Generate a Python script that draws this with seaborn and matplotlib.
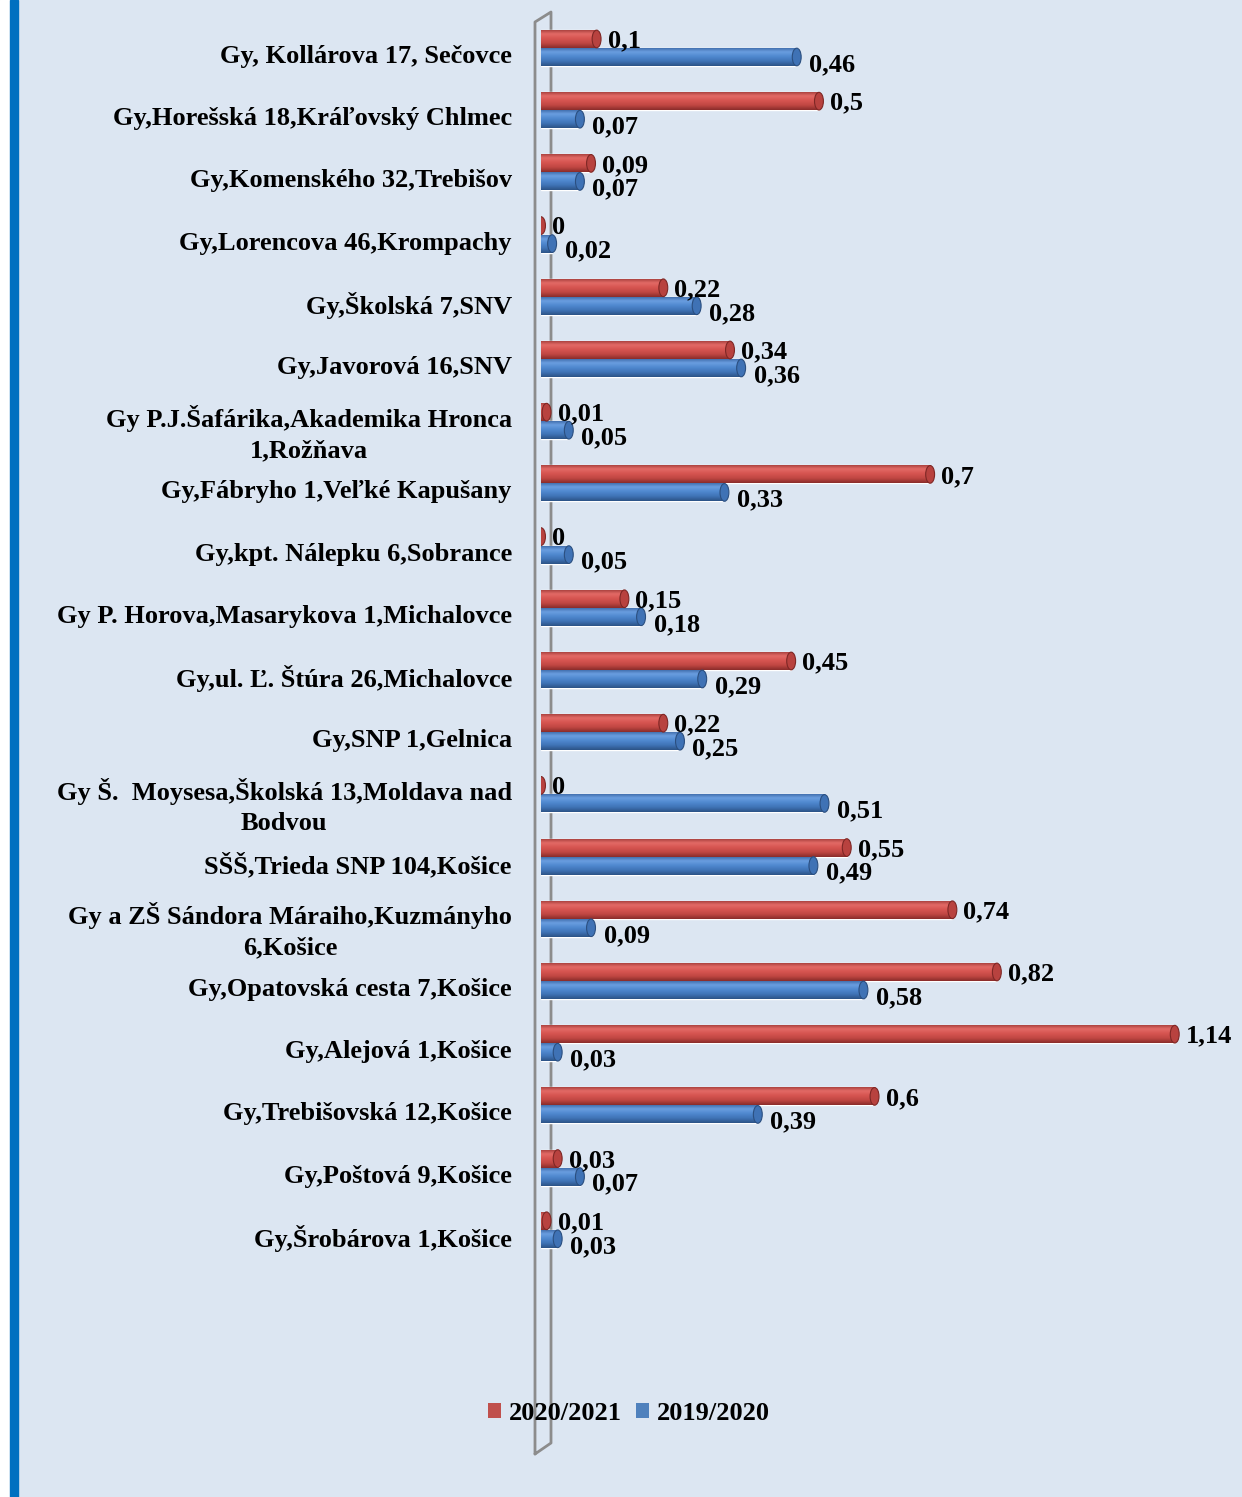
import numpy as np
import pandas as pd
import matplotlib
matplotlib.use("Agg")
import matplotlib.pyplot as plt
import seaborn as sns
from matplotlib.patches import Ellipse, Patch, Rectangle
from matplotlib.lines import Line2D
from matplotlib.colors import LinearSegmentedColormap
from matplotlib.transforms import ScaledTranslation

categories = [
    "Gy, Kollárova 17, Sečovce",
    "Gy,Horešská 18,Kráľovský Chlmec",
    "Gy,Komenského 32,Trebišov",
    "Gy,Lorencova 46,Krompachy",
    "Gy,Školská 7,SNV",
    "Gy,Javorová 16,SNV",
    "Gy P.J.Šafárika,Akademika Hronca\n1,Rožňava",
    "Gy,Fábryho 1,Veľké Kapušany",
    "Gy,kpt. Nálepku 6,Sobrance",
    "Gy P. Horova,Masarykova 1,Michalovce",
    "Gy,ul. Ľ. Štúra 26,Michalovce",
    "Gy,SNP 1,Gelnica",
    "Gy Š.  Moysesa,Školská 13,Moldava nad\nBodvou",
    "SŠŠ,Trieda SNP 104,Košice",
    "Gy a ZŠ Sándora Máraiho,Kuzmányho\n6,Košice",
    "Gy,Opatovská cesta 7,Košice",
    "Gy,Alejová 1,Košice",
    "Gy,Trebišovská 12,Košice",
    "Gy,Poštová 9,Košice",
    "Gy,Šrobárova 1,Košice",
]
series_names = ["2020/2021", "2019/2020"]
values_2020_2021 = [0.1, 0.5, 0.09, 0, 0.22, 0.34, 0.01, 0.7, 0, 0.15,
                    0.45, 0.22, 0, 0.55, 0.74, 0.82, 1.14, 0.6, 0.03, 0.01]
values_2019_2020 = [0.46, 0.07, 0.07, 0.02, 0.28, 0.36, 0.05, 0.33, 0.05, 0.18,
                    0.29, 0.25, 0.51, 0.49, 0.09, 0.58, 0.03, 0.39, 0.07, 0.03]

df = pd.DataFrame({
    "school": categories * 2,
    "series": [series_names[0]] * len(categories) + [series_names[1]] * len(categories),
    "value": values_2020_2021 + values_2019_2020,
})

W, H, DPI = 1242, 1497, 100
BG = "#DCE6F2"
RED = "#D0514D"
BLUE = "#4F86CC"
FONT = "Liberation Serif"
FS = 19

sns.set_theme(style="white")
plt.rcParams["font.family"] = [FONT, "DejaVu Serif"]
plt.rcParams["font.weight"] = "bold"
plt.rcParams["text.color"] = "black"
plt.rcParams["ytick.color"] = "black"

fig = plt.figure(figsize=(W / DPI, H / DPI), dpi=DPI)
fig.patch.set_facecolor(BG)
# left white margin and blue stripe
fig.add_artist(Rectangle((0, 0), 10 / W, 1, transform=fig.transFigure, color="white", zorder=0))
fig.add_artist(Rectangle((10 / W, 0), 8 / W, 1, transform=fig.transFigure, color="#0070C0", zorder=0))

top_px, bot_px = 15, 1450
ax = fig.add_axes([541 / W, 1 - bot_px / H, 1 - 541 / W, (bot_px - top_px) / H])
ax.set_facecolor("none")

sns.barplot(data=df, y="school", x="value", hue="series", orient="h",
            palette=[RED, BLUE], width=0.58, ax=ax, legend=False,
            saturation=1, errorbar=None)

# limits: category k centred at pixel 48 + 62.2*k
c0, step = 48.0, 62.2
ymin = (top_px - c0) / step
ymax = (bot_px - c0) / step
xmax = 1.261

# cylinder shading
red_cmap = LinearSegmentedColormap.from_list("r", ["#9E3A37", "#E36A66", "#D65450", "#C04743", "#8A2C2A"])
blue_cmap = LinearSegmentedColormap.from_list("b", ["#3A66A3", "#6A9EE0", "#4F88CF", "#3F73B6", "#2C5386"])
grad = np.linspace(0, 1, 64).reshape(-1, 1)
cap_w = 0.016
for p in list(ax.patches):
    x0, y0 = p.get_x(), p.get_y()
    w, h = p.get_width(), p.get_height()
    fc = p.get_facecolor()
    is_red = fc[0] > fc[2]
    cmap = red_cmap if is_red else blue_cmap
    if w > 0:
        im = ax.imshow(grad, cmap=cmap, aspect="auto", extent=[x0, x0 + w, y0 + h, y0],
                       zorder=2, interpolation="bilinear")
        im.set_clip_path(p)
    cap = Ellipse((x0 + w, y0 + h / 2), cap_w, h * 0.98,
                  facecolor=("#B8423F" if is_red else "#3F72B5"),
                  edgecolor=("#7E2725" if is_red else "#2B4F80"), lw=0.8, zorder=3)
    ax.add_patch(cap)

ax.set_xlim(0, xmax)
ax.set_ylim(ymax, ymin)

# value labels
fmt = lambda v: f"{v:g}".replace(".", ",")
for i, (r, b) in enumerate(zip(values_2020_2021, values_2019_2020)):
    yr = i - 0.58 / 4
    yb = i + 0.58 / 4
    ax.annotate(fmt(r), (r, yr), xytext=(8, -1.5), textcoords="offset points",
                ha="left", va="center", fontsize=FS, fontweight="bold",
                fontfamily=FONT, color="black", zorder=5)
    ax.annotate(fmt(b), (b, yb), xytext=(9, -5.5), textcoords="offset points",
                ha="left", va="center", fontsize=FS, fontweight="bold",
                fontfamily=FONT, color="black", zorder=5)

# 3D wall outline (figure pixel coords)
def fx(x):
    return x / W

def fy(y):
    return 1 - y / H

wall_x = [535, 535, 551, 551, 535]
wall_y = [1454, 22, 12, 1443, 1454]
ax.add_line(Line2D([fx(v) for v in wall_x], [fy(v) for v in wall_y],
                   transform=fig.transFigure, color="#8C8C8C", lw=2.0,
                   clip_on=False, zorder=0.5))

# axes cosmetics
for s in ax.spines.values():
    s.set_visible(False)
ax.set_xticks([])
ax.set_xlabel("")
ax.set_ylabel("")
ax.tick_params(axis="y", length=0, pad=21, colors="black")
ax.set_yticks(range(len(categories)))
ax.set_yticklabels(categories, fontsize=FS, fontweight="bold", fontfamily=FONT,
                   multialignment="center", color="black", linespacing=1.4)
off = ScaledTranslation(0, -6 / DPI, fig.dpi_scale_trans)
for lab in ax.get_yticklabels():
    lab.set_transform(lab.get_transform() + off)

handles = [Patch(facecolor="#C0504D", edgecolor="none"), Patch(facecolor="#4F81BD", edgecolor="none")]
fig.legend(handles, series_names, loc="center", bbox_to_anchor=(629 / W, 1 - 1413 / H),
           ncol=2, frameon=False, handlelength=0.5, handleheight=0.5,
           handletextpad=0.3, columnspacing=0.55,
           prop={"family": FONT, "weight": "bold", "size": FS})

fig.savefig("out.png", dpi=DPI, facecolor=BG)
